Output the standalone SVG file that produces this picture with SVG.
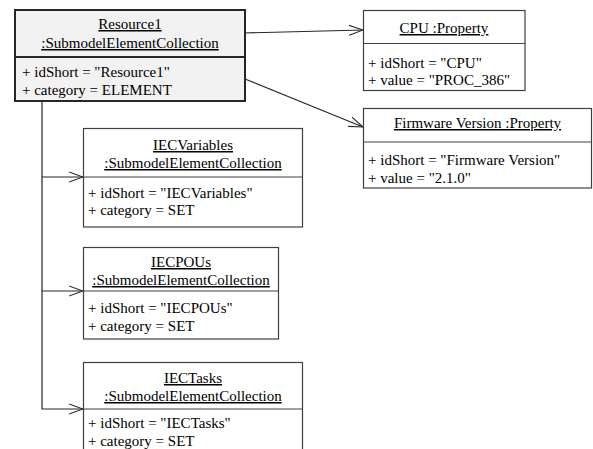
<svg xmlns="http://www.w3.org/2000/svg" width="593" height="449" viewBox="0 0 593 449" font-family="'Liberation Serif', 'Times New Roman', Times, serif" font-size="15">
<defs>
<style>
text{font-family:'Liberation Serif','Times New Roman',Times,serif;font-size:15px;fill:#000}
.t{text-anchor:middle;text-decoration:underline}
.box{fill:#fff;stroke:#404040;stroke-width:1.2}
.main{fill:#f2f2f2;stroke:#262626;stroke-width:2}
.div{stroke:#404040;stroke-width:1.2}
.conn{fill:none;stroke:#262626;stroke-width:1.2}
</style>
<marker id="open" viewBox="0 0 14 12" refX="14" refY="6" markerWidth="14" markerHeight="12" markerUnits="userSpaceOnUse" orient="auto">
<path d="M0,1 L14,6 L0,11" fill="none" stroke="#262626" stroke-width="1.1"/>
</marker>
</defs>
<g id="connectors">
<line class="conn" x1="245" y1="33" x2="363" y2="30" marker-end="url(#open)"/>
<line class="conn" x1="245" y1="79" x2="363" y2="127" marker-end="url(#open)"/>
<path class="conn" d="M42,101 L42,409 L83,409" marker-end="url(#open)"/>
<line class="conn" x1="42" y1="177" x2="83" y2="177" marker-end="url(#open)"/>
<line class="conn" x1="42" y1="291" x2="83" y2="291" marker-end="url(#open)"/>
</g>
<g id="resource1">
<rect class="main" x="15" y="10" width="230" height="91"/>
<line class="div" x1="15" y1="57" x2="245" y2="57" style="stroke-width:2;stroke:#262626"/>
<text class="t" x="130" y="29">Resource1</text>
<text class="t" x="130" y="48">:SubmodelElementCollection</text>
<text x="22" y="77">+ idShort = "Resource1"</text>
<text x="22" y="95">+ category = ELEMENT</text>
</g>
<g id="cpu">
<rect class="box" x="363.5" y="10.5" width="161.5" height="80"/>
<line class="div" x1="363.5" y1="43.5" x2="525" y2="43.5"/>
<text class="t" x="444" y="33">CPU :Property</text>
<text x="368" y="68">+ idShort = "CPU"</text>
<text x="368" y="85">+ value = "PROC_386"</text>
</g>
<g id="firmware">
<rect class="box" x="363.5" y="108.5" width="228" height="79.5"/>
<line class="div" x1="363.5" y1="142" x2="591.5" y2="142"/>
<text class="t" x="477.5" y="128">Firmware Version :Property</text>
<text x="368" y="165">+ idShort = "Firmware Version"</text>
<text x="368" y="183">+ value = "2.1.0"</text>
</g>
<g id="iecvariables">
<rect class="box" x="83.5" y="128.5" width="219" height="98.5"/>
<line class="div" x1="83.5" y1="177" x2="302.5" y2="177"/>
<text class="t" x="193" y="150">IECVariables</text>
<text class="t" x="193" y="168">:SubmodelElementCollection</text>
<text x="88" y="198">+ idShort = "IECVariables"</text>
<text x="88" y="215">+ category = SET</text>
</g>
<g id="iecpous">
<rect class="box" x="83.5" y="247.5" width="195" height="91.5"/>
<line class="div" x1="83.5" y1="291" x2="278.5" y2="291"/>
<text class="t" x="181" y="267">IECPOUs</text>
<text class="t" x="181" y="285">:SubmodelElementCollection</text>
<text x="88" y="313">+ idShort = "IECPOUs"</text>
<text x="88" y="331">+ category = SET</text>
</g>
<g id="iectasks">
<rect class="box" x="83.5" y="362.5" width="219" height="100"/>
<line class="div" x1="83.5" y1="409" x2="302.5" y2="409"/>
<text class="t" x="193" y="383">IECTasks</text>
<text class="t" x="193" y="401">:SubmodelElementCollection</text>
<text x="88" y="428">+ idShort = "IECTasks"</text>
<text x="88" y="446">+ category = SET</text>
</g>
</svg>
